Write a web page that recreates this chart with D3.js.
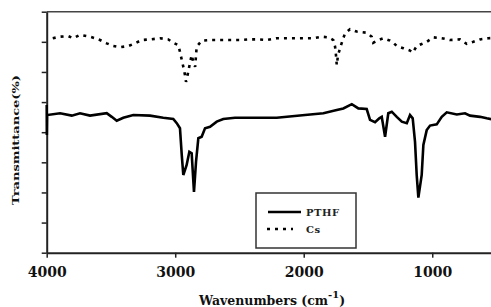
<!DOCTYPE html>
<html><head><meta charset="utf-8">
<script src="https://d3js.org/d3.v7.min.js"></script>
<style>body{margin:0;background:#fff;}svg{display:block;}</style>
</head><body>
<script>
// Data (wavenumber cm^-1, transmittance arbitrary units)
const pthfWn = [4000,3999,3997,3896,3805,3741,3663,3533,3494,3455,3404,3326,3196,3093,3015,2988,2963,2949,2937,2911,2890,2872,2854,2838,2820,2794,2768,2729,2677,2626,2535,2210,1990,1847,1743,1692,1626,1575,1510,1484,1445,1412,1393,1367,1342,1315,1276,1237,1198,1173,1152,1134,1121,1108,1082,1069,1043,1017,965,926,887,809,745,706,628,576,500];
const pthfT  = [49.0,39.1,45.7,46.3,45.5,46.3,45.5,46.3,45.1,43.8,44.8,45.7,45.5,44.8,44.4,43.0,41.3,32.4,25.8,29.1,33.5,33.0,20.2,30.2,38.0,38.5,41.3,41.8,43.5,44.4,44.8,44.8,45.7,46.3,47.4,47.9,49.3,47.9,47.7,44.1,43.3,44.6,45.1,38.5,46.3,46.8,45.1,43.5,43.0,45.7,44.6,36.8,25.8,18.3,25.8,35.8,40.7,42.2,42.6,45.1,46.6,45.9,46.3,45.5,45.1,44.6,44.0];
const csWn = [3953,3896,3832,3793,3741,3663,3624,3585,3533,3482,3430,3365,3313,3261,3196,3118,3054,3015,2976,2963,2949,2937,2924,2916,2908,2893,2872,2859,2845,2833,2794,2729,2651,2574,2496,2431,2353,2288,2210,2132,2054,1977,1925,1860,1809,1770,1756,1749,1743,1733,1710,1679,1640,1588,1510,1471,1459,1420,1381,1328,1303,1276,1225,1173,1152,1121,1082,1043,991,926,862,784,732,680,628,563,500];
const csT  = [71.2,71.7,71.9,71.2,72.3,71.7,71.2,70.6,69.5,68.6,68.2,68.6,69.5,70.6,70.8,71.2,70.8,69.7,68.9,66.7,64.0,61.7,59.0,56.7,58.0,61.3,65.6,63.3,61.7,68.4,70.4,70.6,70.6,70.6,70.6,70.8,70.8,70.6,71.2,71.2,71.2,71.2,71.2,71.7,71.5,70.6,68.4,65.6,62.3,65.6,68.9,72.8,74.2,73.4,73.0,71.7,69.7,70.6,71.2,70.4,69.7,68.6,67.9,67.1,66.4,68.6,69.3,70.0,71.5,71.2,70.6,70.8,69.3,70.0,70.8,71.2,71.3];
const xTicks = [4000,3000,2000,1000];
const yTicks = [0,10,20,30,40,50,60,70,80];
const seriesNames = ["PTHF","Cs"];

const W = 491, H = 307;
const m = {left:46.7, top:11.7};
const pw = 449.8, ph = 241;

const svg = d3.select("body").append("svg").attr("width",W).attr("height",H);
const g = svg.append("g").attr("transform",`translate(${m.left},${m.top})`);

const x = d3.scaleLinear().domain([4000,500]).range([0,pw]);
const y = d3.scaleLinear().domain([0,80]).range([ph,0]);

const font = "'DejaVu Serif', 'Liberation Serif', serif";

// top frame
g.append("line").attr("x1",0).attr("x2",pw).attr("y1",0).attr("y2",0)
  .attr("stroke","#444").attr("stroke-width",1.5);

// axes
const xAxis = g.append("g").attr("transform",`translate(0,${ph})`)
  .call(d3.axisBottom(x).tickValues(xTicks).tickSize(5).tickSizeOuter(0).tickPadding(9).tickFormat(d3.format("d")));
const yAxis = g.append("g")
  .call(d3.axisLeft(y).tickValues(yTicks).tickSize(5).tickSizeOuter(0).tickFormat(""));
[xAxis,yAxis].forEach(a=>{
  a.select(".domain").attr("stroke","#222").attr("stroke-width",2);
  a.selectAll(".tick line").attr("stroke","#222").attr("stroke-width",1.5);
});
xAxis.selectAll("text").attr("font-family",font).attr("font-weight","bold")
  .attr("font-size","14px").attr("fill","#111");

const line = d3.line().x(d=>x(d[0])).y(d=>y(d[1]));
const pthf = pthfWn.map((w,i)=>[w,pthfT[i]]);
const cs = csWn.map((w,i)=>[w,csT[i]]);

g.append("path").datum(pthf).attr("d",line).attr("fill","none")
  .attr("stroke","#000").attr("stroke-width",2.6).attr("stroke-linejoin","miter");
g.append("path").datum(cs).attr("d",line).attr("fill","none")
  .attr("stroke","#000").attr("stroke-width",2.6).attr("stroke-dasharray","3,5");

// axis titles
const xt = svg.append("text").attr("x",272).attr("y",305).attr("text-anchor","middle")
  .attr("font-family",font).attr("font-weight","bold").attr("font-size","12.5px").attr("fill","#111");
xt.append("tspan").text("Wavenumbers (cm");
xt.append("tspan").attr("font-size","10px").attr("dy",-7).text("-1");
xt.append("tspan").attr("dy",7).text(")");

svg.append("text").attr("transform","translate(19,140) rotate(-90)")
  .attr("text-anchor","middle").attr("font-family",font).attr("font-weight","bold")
  .attr("font-size","10px").attr("fill","#111")
  .attr("textLength",130).attr("lengthAdjust","spacingAndGlyphs")
  .text("Transmittance(%)");

// legend
const lg = svg.append("g").attr("transform","translate(256,193)");
lg.append("rect").attr("width",100).attr("height",55).attr("fill","#fff")
  .attr("stroke","#333").attr("stroke-width",1.5);
const ly = [19,36];
lg.append("line").attr("x1",12).attr("x2",45).attr("y1",ly[0]).attr("y2",ly[0])
  .attr("stroke","#000").attr("stroke-width",2.6);
lg.append("line").attr("x1",11).attr("x2",37).attr("y1",ly[1]).attr("y2",ly[1])
  .attr("stroke","#000").attr("stroke-width",2.6).attr("stroke-dasharray","3,5");
lg.selectAll("text.l").data(seriesNames).enter().append("text")
  .attr("x",50).attr("y",(d,i)=>ly[i]+4)
  .attr("font-family",font).attr("font-weight","bold").attr("font-size","10px")
  .attr("fill","#222").attr("letter-spacing","0.5px").text(d=>d);
</script>
</body></html>
